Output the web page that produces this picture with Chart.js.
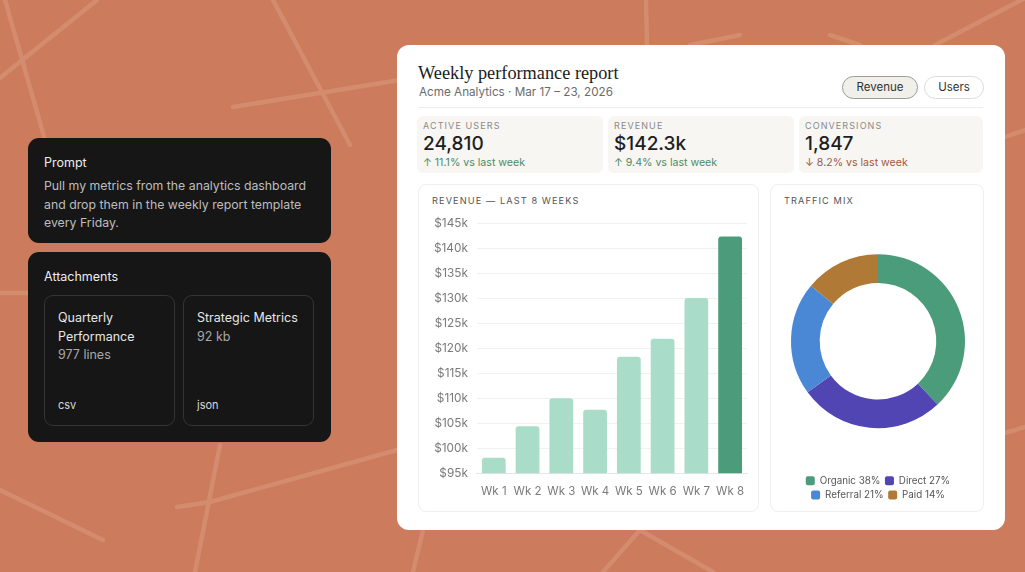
<!DOCTYPE html>
<html><head><meta charset="utf-8">
<script src="https://cdn.jsdelivr.net/npm/chart.js@4.4.1/dist/chart.umd.min.js"></script>
<style>
*{box-sizing:border-box;margin:0;padding:0}
body{width:1025px;height:572px;overflow:hidden;background:#CC7B5C;font-family:Inter,"Noto Sans",sans-serif;position:relative}
#bg{position:absolute;left:0;top:0}
.dark{position:absolute;background:#161616;border-radius:11px;color:#eee}
.dark .h{position:absolute;left:16px;font-size:12.5px;color:#ececec}
.prompt{position:absolute;left:16px;top:39px;width:270px;font-size:12.3px;line-height:18.5px;color:#bdbdbd}
.att{position:absolute;top:43px;width:131px;height:131px;border:1px solid #343434;border-radius:9px}
.att .t{position:absolute;left:13px;top:13px;font-size:12.5px;line-height:18.5px;color:#e6e6e6}
.att .s{color:#a8a8a8}
.att .e{position:absolute;left:13px;bottom:13px;font-size:11px;color:#d8d8d8}
#card{position:absolute;left:397px;top:45px;width:608px;height:485px;background:#fff;border-radius:12px}
.title{position:absolute;left:21px;top:18px;font-family:"Liberation Serif","DejaVu Serif",serif;font-size:18.3px;color:#1c1c1c}
.sub{position:absolute;left:22px;top:40px;font-size:11.7px;color:#6b6b6b}
.btn{position:absolute;top:31px;height:23px;border-radius:12px;font-size:11.5px;line-height:21px;text-align:center;color:#333}
.div{position:absolute;left:21px;top:62px;width:565px;height:1px;background:#ececec}
.kpi{position:absolute;top:71px;height:57px;background:#F7F6F3;border-radius:6px}
.kpi .l{position:absolute;left:6px;top:4px;font-size:9px;letter-spacing:1.1px;color:#8a8a8a}
.kpi .v{position:absolute;left:6px;top:16px;font-size:19px;font-weight:500;color:#1e1e1e}
.kpi .d{position:absolute;left:6px;top:40px;font-size:10.6px;color:#4f8a68}
.kpi .d.dn{color:#a5573c}
.panel{position:absolute;top:139px;height:328px;border:1px solid #efefef;border-radius:8px}
.ptitle{position:absolute;left:13px;top:10px;font-size:9.2px;letter-spacing:1.1px;color:#555}
</style></head>
<body>
<svg id="bg" width="1025" height="572">
<g stroke="#D48C6E" stroke-width="4.5" fill="none" stroke-linecap="round">
<path d="M5 0 L45 140"/><path d="M0 78 L97 0"/><path d="M273 0 L350 145"/><path d="M233 107 L400 80"/>
<path d="M0 293 L28 293"/>
<path d="M646 0 L647 45"/><path d="M690 45 L740 35"/><path d="M830 35 L860 45"/><path d="M935 45 L1025 -2"/>
<path d="M1005 137 L1025 130"/><path d="M1005 433 L1025 427"/>
<path d="M0 490 L103 540"/><path d="M220 445 L195 572"/><path d="M177 507 L210 502 L397 450"/>
<path d="M423 530 L413 572"/><path d="M640 530 L603 572"/><path d="M640 530 L713 572"/>
</g></svg>

<div class="dark" style="left:28px;top:138px;width:303px;height:105px">
 <div class="h" style="top:17px">Prompt</div>
 <div class="prompt">Pull my metrics from the analytics dashboard and drop them in the weekly report template every Friday.</div>
</div>
<div class="dark" style="left:28px;top:252px;width:303px;height:190px">
 <div class="h" style="top:17px">Attachments</div>
 <div class="att" style="left:16px"><div class="t">Quarterly<br>Performance<br><span class="s">977 lines</span></div><div class="e">csv</div></div>
 <div class="att" style="left:155px"><div class="t">Strategic Metrics<br><span class="s">92 kb</span></div><div class="e">json</div></div>
</div>

<div id="card">
 <div class="title">Weekly performance report</div>
 <div class="sub">Acme Analytics · Mar 17 – 23, 2026</div>
 <div class="btn" style="left:445px;width:76px;background:#F0EFEA;border:1px solid #9c9c98">Revenue</div>
 <div class="btn" style="left:527px;width:60px;background:#fff;border:1px solid #dcdcdc">Users</div>
 <div class="div"></div>
 <div class="kpi" style="left:20px;width:186px"><div class="l">ACTIVE USERS</div><div class="v">24,810</div><div class="d">↑ 11.1% vs last week</div></div>
 <div class="kpi" style="left:211px;width:186px"><div class="l">REVENUE</div><div class="v">$142.3k</div><div class="d">↑ 9.4% vs last week</div></div>
 <div class="kpi" style="left:402px;width:184px"><div class="l">CONVERSIONS</div><div class="v">1,847</div><div class="d dn">↓ 8.2% vs last week</div></div>
 <div class="panel" style="left:21px;width:341px">
  <div class="ptitle">REVENUE — LAST 8 WEEKS</div>
  <div style="position:absolute;left:4px;top:22px;width:333px;height:294px"><canvas id="bar"></canvas></div>
 </div>
 <div class="panel" style="left:373px;width:214px">
  <div class="ptitle">TRAFFIC MIX</div>
  <div style="position:absolute;left:4px;top:26px;width:206px;height:302px"><canvas id="pie"></canvas></div>
 </div>
</div>

<script>
const weeks = ["Wk 1","Wk 2","Wk 3","Wk 4","Wk 5","Wk 6","Wk 7","Wk 8"];
const revenue = [98.1, 104.4, 110.0, 107.7, 118.3, 121.9, 130.0, 142.3];
const channels = ["Organic","Direct","Referral","Paid"];
const shares = [38, 27, 21, 14];
const barColors = revenue.map((v,i)=> i===revenue.length-1 ? "#4A9C7A" : "#A9DDC9");
const pieColors = ["#4A9C7A","#5045B3","#4A88D6","#B07A36"];
const tickFont = {family:"Inter, 'Noto Sans', sans-serif", size:11.8};

new Chart(document.getElementById("bar"), {
  type:"bar",
  data:{labels:weeks, datasets:[{data:revenue.map(v=>v*1000), backgroundColor:barColors, borderRadius:3, borderSkipped:"bottom", categoryPercentage:0.8, barPercentage:0.88}]},
  options:{responsive:true, maintainAspectRatio:false, animation:false,
    layout:{padding:{left:2,right:9,top:0,bottom:0}},
    plugins:{legend:{display:false}, tooltip:{enabled:false}},
    scales:{
      y:{min:95000,max:145000,ticks:{stepSize:5000,color:"#7a7a7a",font:tickFont,padding:9,callback:v=>"$"+(v/1000)+"k"},
         grid:{color:"#f1f1f1",drawTicks:false}, border:{display:false}},
      x:{ticks:{color:"#7a7a7a",font:{...tickFont,size:11.5},padding:3,maxRotation:0,minRotation:0,autoSkip:false}, grid:{display:false}, border:{color:"#e6e6e6"}}
    }}
});

new Chart(document.getElementById("pie"), {
  type:"doughnut",
  data:{labels:channels, datasets:[{data:shares, backgroundColor:pieColors, borderWidth:0}]},
  options:{responsive:true, maintainAspectRatio:false, animation:false, cutout:"67%",
    layout:{padding:{top:0,bottom:3,left:16,right:16}},
    plugins:{tooltip:{enabled:false},
      legend:{position:"bottom", labels:{boxWidth:9, boxHeight:9, useBorderRadius:true, borderRadius:2, padding:4.5, color:"#555",
        font:{family:"Inter, 'Noto Sans', sans-serif", size:9.8},
        generateLabels:(c)=>channels.map((n,i)=>({text:n+" "+shares[i]+"%", fillStyle:pieColors[i], strokeStyle:pieColors[i], lineWidth:0, borderRadius:2, index:i, fontColor:"#555"}))}}}
  }
});
</script>
</body></html>
